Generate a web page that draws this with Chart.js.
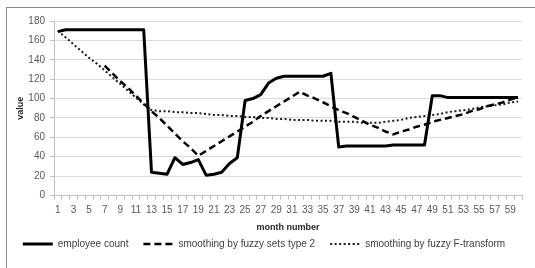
<!DOCTYPE html>
<html>
<head>
<meta charset="utf-8">
<script src="https://cdn.jsdelivr.net/npm/chart.js@4/dist/chart.umd.min.js"></script>
<style>
    body { margin: 0; background: #fff; overflow: hidden; }
    #wrap { position: relative; width: 535px; height: 268px; }
    #frame { position: absolute; left: 6px; top: 7px; width: 600px; height: 300px; border: 1px solid #8a8a8a; }
    #chart { position: absolute; left: 0; top: 0; }
</style>
</head>
<body>
<div id="wrap">
    <div id="frame"></div>
    <canvas id="chart" width="535" height="268"></canvas>
</div>
<script>
const months = [1, 2, 3, 4, 5, 6, 7, 8, 9, 10, 11, 12, 13, 14, 15, 16, 17, 18, 19, 20,
    21, 22, 23, 24, 25, 26, 27, 28, 29, 30, 31, 32, 33, 34, 35, 36, 37, 38, 39, 40,
    41, 42, 43, 44, 45, 46, 47, 48, 49, 50, 51, 52, 53, 54, 55, 56, 57, 58, 59, 60];

const employeeCount = [169, 171, 171, 171, 171, 171, 171, 171, 171, 171, 171, 171,
    24, 23, 22, 39, 32, 34, 37, 21, 22, 24, 33, 39,
    98, 100, 104, 116, 121, 123, 123, 123, 123, 123, 123, 126,
    50, 51, 51, 51, 51, 51, 51, 52, 52, 52, 52, 52,
    103, 103, 101, 101, 101, 101, 101, 101, 101, 101, 101, 101];

const fuzzyType2 = [null, null, null, null, null, null, 134, 126, 118, 111, 103, 95,
    87, 80, 72, 64, 56, 49, 41, 46, 51, 56, 61, 66,
    71, 76, 82, 87, 92, 97, 102, 107, 103, 100, 96, 92,
    88, 85, 81, 77, 73, 70, 66, 63, 66, 68, 71, 73,
    76, 78, 80, 82, 84, 87, 89, 92, 94, 96, 99, 101];

const fTransform = [170, 163, 156, 149, 142, 136, 129, 122, 115, 108, 101, 94,
    88, 87, 87, 86, 86, 85, 85, 84, 83, 83, 82, 82,
    81, 81, 80, 80, 79, 79, 78, 78, 78, 77, 77, 77,
    76, 76, 76, 75, 75, 75, 76, 77, 78, 80, 81, 82,
    83, 84, 86, 87, 88, 89, 91, 92, 93, 94, 96, 97];

const yTicks = [0, 20, 40, 60, 80, 100, 120, 140, 160, 180];

const seriesNames = ['employee count', 'smoothing by fuzzy sets type 2', 'smoothing by fuzzy F-transform'];

const fontFamily = '"Liberation Sans", Arial, sans-serif';

const ctx = document.getElementById('chart').getContext('2d');
const chart = new Chart(ctx, {
    type: 'line',
    data: {
        labels: months,
        datasets: [
            {
                label: seriesNames[0],
                data: employeeCount,
                borderColor: '#000',
                backgroundColor: '#000',
                borderWidth: 3,
                pointStyle: 'line'
            },
            {
                label: seriesNames[1],
                data: fuzzyType2,
                borderColor: '#000',
                backgroundColor: '#000',
                borderWidth: 2.5,
                borderDash: [7, 4],
                pointStyle: 'line'
            },
            {
                label: seriesNames[2],
                data: fTransform,
                borderColor: '#1a1a1a',
                backgroundColor: '#1a1a1a',
                borderWidth: 2,
                borderDash: [2, 2.5],
                pointStyle: 'line'
            }
        ]
    },
    options: {
        responsive: false,
        devicePixelRatio: 1,
        animation: false,
        elements: {
            point: { radius: 0, hoverRadius: 0 },
            line: { tension: 0, borderCapStyle: 'butt', borderJoinStyle: 'round' }
        },
        layout: {
            // small left padding nudges the legend right; y axis width is fixed below
            padding: { left: 6, top: 21, right: 13, bottom: 9 }
        },
        plugins: {
            tooltip: { enabled: false },
            legend: {
                position: 'bottom',
                labels: {
                    usePointStyle: true,
                    pointStyle: 'line',
                    pointStyleWidth: 30,
                    boxWidth: 30,
                    boxHeight: 10,
                    padding: 15,
                    color: '#404040',
                    font: { family: fontFamily, size: 10 },
                    generateLabels: c => Chart.defaults.plugins.legend.labels.generateLabels(c).map((item, i) => {
                        const ds = c.data.datasets[i];
                        item.lineDash = ds.borderDash || [];
                        item.lineWidth = ds.borderWidth;
                        return item;
                    })
                }
            }
        },
        scales: {
            x: {
                offset: true,
                grid: {
                    offset: true,
                    drawOnChartArea: false,
                    tickLength: 4,
                    color: '#bfbfbf'
                },
                border: { color: '#bfbfbf' },
                ticks: {
                    autoSkip: false,
                    maxRotation: 0,
                    padding: 5,
                    color: '#595959',
                    font: { family: fontFamily, size: 10 },
                    callback: (v, i) => (i % 2 === 0 ? months[i] : '')
                },
                title: {
                    display: true,
                    text: 'month number',
                    color: '#262626',
                    padding: { top: 0, bottom: -8.5 },
                    font: { family: fontFamily, size: 9, weight: 'bold' }
                },
                afterFit: scale => { scale.height = 28.5; }
            },
            y: {
                min: 0,
                max: 180,
                afterBuildTicks: scale => { scale.ticks = yTicks.map(v => ({ value: v })); },
                grid: {
                    color: '#d9d9d9',
                    tickLength: 4,
                    tickColor: '#bfbfbf'
                },
                border: { color: '#bfbfbf' },
                ticks: {
                    padding: 5,
                    color: '#595959',
                    font: { family: fontFamily, size: 10 }
                },
                title: {
                    display: true,
                    text: 'value',
                    color: '#262626',
                    padding: { top: 9, bottom: 0 },
                    font: { family: fontFamily, size: 9, weight: 'bold' }
                },
                afterFit: scale => { scale.width = 48; }
            }
        }
    }
});
</script>
</body>
</html>
